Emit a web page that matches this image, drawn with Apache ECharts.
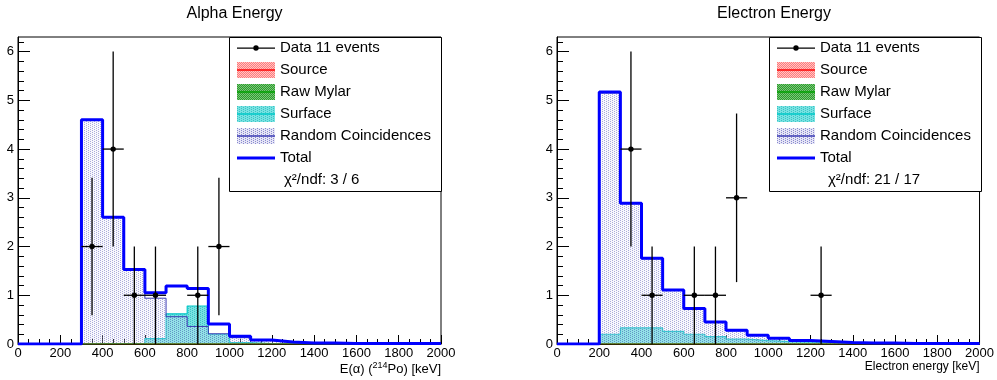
<!DOCTYPE html>
<html>
<head>
<meta charset="utf-8">
<script src="https://cdn.jsdelivr.net/npm/echarts@6/dist/echarts.min.js"></script>
<style>
html, body { margin: 0; padding: 0; background: #fff; }
#chart { width: 997px; height: 380px; }
</style>
</head>
<body>
<div id="chart"></div>
<script>
// lower bin edges, 100 keV bins from 0 to 2000 keV
const binLow = [0,100,200,300,400,500,600,700,800,900,1000,1100,1200,1300,1400,1500,1600,1700,1800,1900];
const binHalf = 50;
const xMax = 2000;

// Alpha energy histograms (counts per bin)
const alphaSource  = [0,0,0,0,0,0,0,0,0,0,0,0,0,0,0,0,0,0,0,0];
const alphaMylar   = [0,0,0,0,0,0,0,0,0,0,0,0,0,0,0,0,0,0,0,0];
const alphaSurface = [0,0,0,0.01,0.01,0.01,0.11,0.62,0.78,0.2,0.03,0.01,0.01,0,0,0,0,0,0,0];
const alphaRandom  = [0,0,0,4.6,2.6,1.52,0.94,0.56,0.36,0.21,0.13,0.07,0.03,0.02,0.02,0.01,0.01,0.01,0.01,0.01];
const alphaTotal   = [0,0,0,4.6,2.6,1.53,1.05,1.19,1.14,0.41,0.16,0.08,0.04,0.02,0.02,0.01,0.01,0.01,0.01,0.01];
const alphaDataX   = [350,450,550,650,850,950];
const alphaDataY   = [2,4,1,1,1,2];
const alphaDataLo  = [0.59,2,0,0,0,0.59];
const alphaDataHi  = [3.41,6,2,2,2,3.41];

// Electron energy histograms
const elecSource  = [0,0,0,0,0,0,0,0,0,0,0,0,0,0,0,0,0,0,0,0];
const elecMylar   = [0,0,0,0,0,0,0,0,0,0,0,0,0,0,0,0,0,0,0,0];
const elecSurface = [0,0,0.2,0.33,0.33,0.26,0.2,0.15,0.1,0.07,0.05,0.04,0.03,0.02,0.01,0.01,0.01,0.01,0.01,0.01];
const elecRandom  = [0,0,5.15,2.88,1.75,1.1,0.72,0.45,0.27,0.18,0.12,0.07,0.04,0.03,0.02,0.02,0.01,0.01,0.01,0.01];
const elecTotal   = [0,0,5.17,2.89,1.76,1.11,0.73,0.45,0.28,0.18,0.12,0.07,0.05,0.03,0.02,0.02,0.01,0.01,0.01,0.01];
const elecDataX   = [350,450,650,750,850,1250];
const elecDataY   = [4,1,1,1,3,1];
const elecDataLo  = [2,0,0,0,1.27,0];
const elecDataHi  = [6,2,2,2,4.73,2];

// tick values
const yMajor = [0,1,2,3,4,5,6];
const yMinor = [0.2,0.4,0.6,0.8,1.2,1.4,1.6,1.8,2.2,2.4,2.6,2.8,3.2,3.4,3.6,3.8,4.2,4.4,4.6,4.8,5.2,5.4,5.6,5.8,6.2];

const titles = ['Alpha Energy', 'Electron Energy'];
const chi2 = ['χ²/ndf: 3 / 6', 'χ²/ndf: 21 / 17'];
const legendNames = ['Data 11 events', 'Source', 'Raw Mylar', 'Surface', 'Random Coincidences', 'Total'];

const FONT = 'Liberation Sans, Arial, Helvetica, sans-serif';

function pattern(bg, dot, cells) {
    const c = document.createElement('canvas');
    c.width = 4; c.height = 4;
    const g = c.getContext('2d');
    g.fillStyle = bg; g.fillRect(0, 0, 4, 4);
    g.fillStyle = dot;
    cells.forEach(p => g.fillRect(p[0], p[1], 1, 1));
    return { image: c, repeat: 'repeat' };
}
const sparse = [[0,0],[2,1],[0,2],[2,3]];
const dense = [[0,0],[2,0],[1,1],[3,1],[0,2],[2,2],[1,3],[3,3]];
const fillSource  = pattern('#ffc4c4', '#ff7b7b', dense);
const fillMylar   = pattern('#78c878', '#2f9a2f', dense);
const fillSurface = pattern('#78e2e2', '#3cc4c4', sparse);
const fillRandom  = pattern('rgba(228,228,246,0.25)', 'rgba(95,95,185,0.5)', sparse);
const fillRandomKey = pattern('#e6e6f6', '#8a8ad0', sparse);

const colSource = '#ff0000', colMylar = '#00a000', colSurface = '#00c8c8', colRandom = '#3c3cb4', colTotal = '#0000ff';

function histo(vals) {
    const pts = binLow.map((x, i) => [x, vals[i]]);
    pts.push([xMax, vals[vals.length - 1]]);
    return pts;
}

function histSeries(name, vals, gi, color, width, fill, z) {
    const s = {
        type: 'line', name: name, xAxisIndex: gi, yAxisIndex: gi * 2,
        step: 'end', symbol: 'none', data: histo(vals), z: z,
        lineStyle: { color: color, width: width },
        itemStyle: { color: color },
        silent: true, animation: false
    };
    if (fill) s.areaStyle = { color: fill, opacity: 1 };
    return s;
}

function dataSeries(gi, xs, ys, lo, hi) {
    return {
        type: 'custom', name: 'Data 11 events', xAxisIndex: gi, yAxisIndex: gi * 2, z: 6,
        data: xs.map((x, i) => [x, ys[i], lo[i], hi[i]]),
        renderItem: function (params, api) {
            const x = api.value(0), y = api.value(1);
            const c = api.coord([x, y]);
            const pLo = api.coord([x, api.value(2)]);
            const pHi = api.coord([x, api.value(3)]);
            const pL = api.coord([x - binHalf, y]);
            const pR = api.coord([x + binHalf, y]);
            const st = { stroke: '#000', lineWidth: 1.3 };
            return {
                type: 'group', children: [
                    { type: 'line', shape: { x1: c[0], y1: pLo[1], x2: c[0], y2: pHi[1] }, style: st },
                    { type: 'line', shape: { x1: pL[0], y1: c[1], x2: pR[0], y2: c[1] }, style: st },
                    { type: 'circle', shape: { cx: c[0], cy: c[1], r: 2.7 }, style: { fill: '#000' } }
                ]
            };
        },
        animation: false
    };
}

const grids = [
    { left: 18, top: 37, width: 423, height: 307 },
    { left: 557, top: 37, width: 424, height: 307 }
];
const axisNames = ['E(α) ({s|214}Po) [keV]', 'Electron energy [keV]'];
const axisNameSize = [13, 12];

const xAxes = [], yAxes = [], series = [], titleOpts = [], legends = [], graphics = [];
const sets = [
    [alphaSource, alphaMylar, alphaSurface, alphaRandom, alphaTotal, alphaDataX, alphaDataY, alphaDataLo, alphaDataHi],
    [elecSource, elecMylar, elecSurface, elecRandom, elecTotal, elecDataX, elecDataY, elecDataLo, elecDataHi]
];

grids.forEach((g, gi) => {
    xAxes.push({
        type: 'value', gridIndex: gi, min: 0, max: xMax, interval: 200,
        axisLine: { onZero: false, lineStyle: { color: '#000', width: 1 } },
        axisTick: { inside: true, length: 9, lineStyle: { color: '#000' } },
        minorTick: { show: true, splitNumber: 4, length: 5, lineStyle: { color: '#000' } },
        axisLabel: { color: '#000', fontSize: 13, fontFamily: FONT, margin: 3, formatter: v => String(v) },
        splitLine: { show: false },
        name: axisNames[gi], nameLocation: 'end', nameGap: 0,
        nameTextStyle: {
            align: 'right', verticalAlign: 'top', padding: [17, 0, 0, 0],
            fontSize: axisNameSize[gi], fontFamily: FONT, color: '#000',
            rich: { s: { fontSize: 9, padding: [0, 0, 7, 0], fontFamily: FONT, color: '#000' } }
        }
    });
    yAxes.push({
        type: 'value', gridIndex: gi, min: 0, max: 6.3, position: 'left',
        axisLine: { show: true, lineStyle: { color: '#000', width: 1 } },
        axisTick: { inside: true, length: 12, customValues: yMajor, lineStyle: { color: '#000' } },
        axisLabel: { customValues: yMajor, color: '#000', fontSize: 13, fontFamily: FONT, margin: 4 },
        splitLine: { show: false }
    });
    yAxes.push({
        type: 'value', gridIndex: gi, min: 0, max: 6.3, position: 'left',
        axisLine: { show: false },
        axisTick: { inside: true, length: 6, customValues: yMinor, lineStyle: { color: '#000' } },
        axisLabel: { show: false },
        splitLine: { show: false }
    });

    const d = sets[gi];
    series.push(histSeries('Surface', d[2], gi, colSurface, 1.2, fillSurface, 2));
    series.push(histSeries('Random Coincidences', d[3], gi, colRandom, 1, fillRandom, 3));
    series.push(histSeries('Source', d[0], gi, colSource, 1, null, 3));
    series.push(histSeries('Raw Mylar', d[1], gi, colMylar, 1, null, 3));
    series.push(histSeries('Total', d[4], gi, colTotal, 3, null, 4));
    series.push(dataSeries(gi, d[5], d[6], d[7], d[8]));

    const cx = g.left + g.width / 2;
    titleOpts.push({
        text: titles[gi], left: cx, top: 1, textAlign: 'center',
        textStyle: { fontSize: 16, fontWeight: 'normal', color: '#000', fontFamily: FONT }
    });

    // legend box in the top right corner of the frame
    const boxW = 212, boxH = 154;
    const bx = g.left + g.width - boxW, by = g.top;
    const ix = bx + 8;
    graphics.push({
        type: 'rect', z: 5, silent: true,
        shape: { x: bx + 0.5, y: by + 0.5, width: boxW, height: boxH },
        style: { fill: '#fff', stroke: '#000', lineWidth: 1 }
    });
    legends.push({
        orient: 'vertical', left: ix, top: by + 3, padding: 0, z: 6,
        itemWidth: 38, itemHeight: 16, itemGap: 6, selectedMode: false,
        textStyle: { fontSize: 15, color: '#000', fontFamily: FONT, lineHeight: 16 },
        data: [
            { name: legendNames[0], icon: 'path://M0,9H38V10.3H0Z M19,6.8A2.7,2.7 0 1 1 19,12.2A2.7,2.7 0 1 1 19,6.8Z', itemStyle: { color: '#000', borderWidth: 0 } },
            { name: legendNames[1], icon: 'rect', itemStyle: { color: fillSource, borderWidth: 0 } },
            { name: legendNames[2], icon: 'rect', itemStyle: { color: fillMylar, borderWidth: 0 } },
            { name: legendNames[3], icon: 'rect', itemStyle: { color: fillSurface, borderWidth: 0 } },
            { name: legendNames[4], icon: 'rect', itemStyle: { color: fillRandomKey, borderWidth: 0 } },
            { name: legendNames[5], icon: 'path://M0,0H38V3H0Z', itemStyle: { color: colTotal, borderWidth: 0 } }
        ]
    });
    const lineCols = [colSource, colMylar, colSurface, colRandom];
    lineCols.forEach((lc, k) => {
        const yy = by + 3 + 22 * (k + 1) + 8;
        graphics.push({
            type: 'line', z: 7, silent: true,
            shape: { x1: ix, y1: yy, x2: ix + 38, y2: yy },
            style: { stroke: lc, lineWidth: 1.3 }
        });
    });
    graphics.push({
        type: 'text', z: 7, silent: true,
        x: ix + 47 + (gi === 1 ? 4 : 0), y: by + 3 + 22 * 6 + 8,
        style: { text: chi2[gi], fontSize: 15, fontFamily: FONT, fill: '#000', verticalAlign: 'middle' }
    });
});

const chart = echarts.init(document.getElementById('chart'));
chart.setOption({
    backgroundColor: '#fff',
    animation: false,
    title: titleOpts,
    grid: grids.map(g => Object.assign({ show: true, borderColor: '#000', borderWidth: 1, backgroundColor: 'transparent' }, g)),
    xAxis: xAxes,
    yAxis: yAxes,
    legend: legends,
    graphic: graphics,
    series: series
});
</script>
</body>
</html>
